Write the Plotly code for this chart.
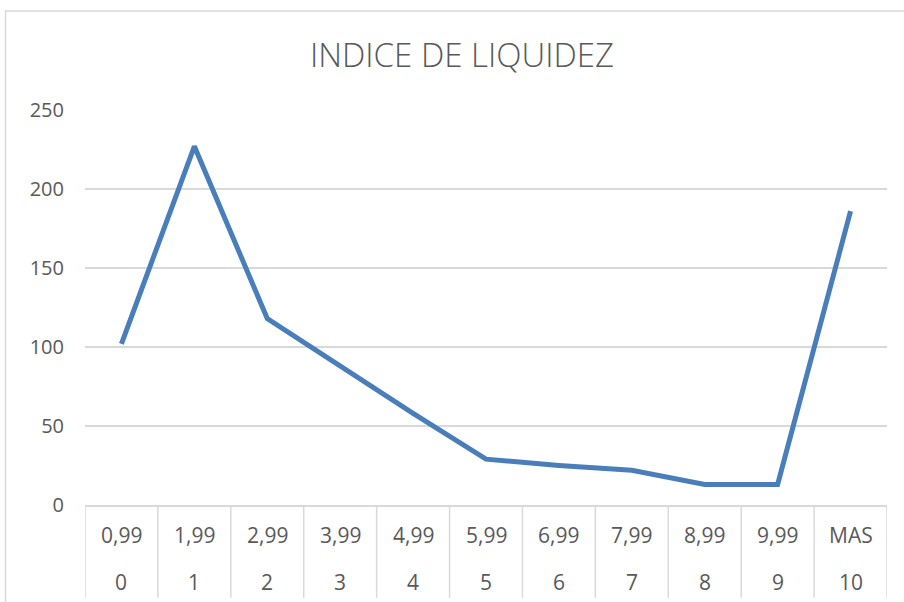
import plotly.graph_objects as go

# Index ranges (upper bound row and class number row) and counts
upper_labels = ["0,99", "1,99", "2,99", "3,99", "4,99", "5,99", "6,99", "7,99", "8,99", "9,99", "MAS"]
class_labels = ["0", "1", "2", "3", "4", "5", "6", "7", "8", "9", "10"]
counts = [102, 227, 118, 88, 58, 29, 25, 22, 13, 13, 186]

y_ticks = [0, 50, 100, 150, 200, 250]

TEXT = "#595959"
GRID = "#d9d9d9"
FONT = "Open Sans"

positions = list(range(len(class_labels)))

fig = go.Figure()
fig.add_trace(go.Scatter(
    x=positions,
    y=counts,
    mode="lines",
    line=dict(color="#4A7EBB", width=5),
    hoverinfo="skip",
    showlegend=False,
))

# Two-row category labels under the axis
for pos, top, bottom in zip(positions, upper_labels, class_labels):
    fig.add_annotation(x=pos, y=-0.077, xref="x", yref="paper", text=top,
                       showarrow=False, yanchor="middle",
                       font=dict(family=FONT, size=21, color=TEXT))
    fig.add_annotation(x=pos, y=-0.194, xref="x", yref="paper", text=bottom,
                       showarrow=False, yanchor="middle",
                       font=dict(family=FONT, size=21, color=TEXT))

# Vertical dividers between categories
for k in range(len(positions) + 1):
    fig.add_shape(type="line", xref="x", yref="paper",
                  x0=k - 0.5, x1=k - 0.5, y0=0, y1=-0.235,
                  line=dict(color=GRID, width=1.5))

# Outer chart frame
fig.add_shape(type="rect", xref="paper", yref="paper",
              x0=-0.0991, x1=1.06, y0=1.2506, y1=-0.3,
              line=dict(color=GRID, width=1.5), fillcolor="rgba(0,0,0,0)",
              layer="below")

fig.update_layout(
    width=904,
    height=602,
    margin=dict(l=85, r=17, t=110, b=97),
    paper_bgcolor="white",
    plot_bgcolor="white",
    title=dict(
        text="INDICE DE LIQUIDEZ",
        x=0.47, xref="paper", xanchor="center",
        y=1 - 55 / 602, yref="container", yanchor="middle",
        font=dict(family=FONT, size=33, color=TEXT, weight=300),
    ),
    xaxis=dict(
        range=[-0.5, len(positions) - 0.5],
        showticklabels=False,
        showgrid=False,
        zeroline=False,
        showline=True,
        linecolor=GRID,
        linewidth=1.5,
        ticks="",
        fixedrange=True,
    ),
    yaxis=dict(
        range=[0, 250],
        tickvals=y_ticks,
        ticktext=[str(v) for v in y_ticks],
        showgrid=True,
        gridcolor=GRID,
        gridwidth=1.5,
        zeroline=False,
        showline=False,
        ticks="",
        ticklabelstandoff=20,
        tickfont=dict(family=FONT, size=20, color=TEXT),
        fixedrange=True,
    ),
)

fig.write_html("out.html")
